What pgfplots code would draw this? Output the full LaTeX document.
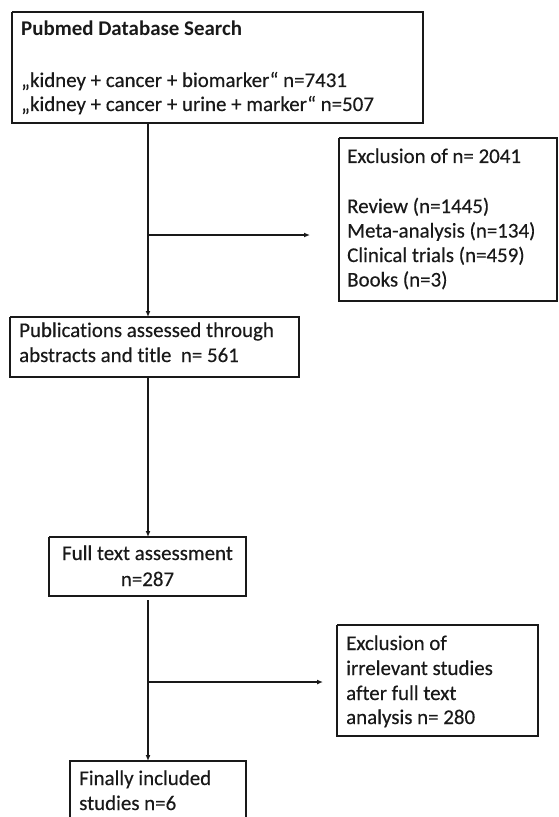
\documentclass[border=0pt]{standalone}
\usepackage{fontspec}
\setmainfont[Ligatures={NoCommon}, UprightFeatures={FakeBold=0.35}]{Carlito}
\usepackage{pgfplots}
\pgfplotsset{compat=1.18}
\usetikzlibrary{arrows.meta}
\definecolor{ink}{RGB}{25,25,25}
\begin{document}
\begin{tikzpicture}
\begin{axis}[
  width=559bp, height=817bp, scale only axis,
  xmin=0, xmax=559, ymin=0, ymax=817, y dir=reverse,
  hide axis, clip=true,
  every axis plot/.append style={line join=miter, draw=ink},
]
% boxes
\addplot[line width=1.3bp] coordinates {(12,12) (423,12) (423,123) (12,123) (12,12)};
\addplot[line width=1.3bp] coordinates {(339,138) (557,138) (557,301) (339,301) (339,138)};
\addplot[line width=1.3bp] coordinates {(10,317) (299,317) (299,377) (10,377) (10,317)};
\addplot[line width=1.3bp] coordinates {(49,537) (246,537) (246,596) (49,596) (49,537)};
\addplot[line width=1.3bp] coordinates {(337,625) (538,625) (538,736) (337,736) (337,625)};
\addplot[line width=1.3bp] coordinates {(70,840) (70,761) (246,761) (246,840)};
% arrows
\addplot[line width=1.6bp, -{Latex[length=6bp,width=5bp]}] coordinates {(148,123) (148,317)};
\addplot[line width=1.6bp, -{Latex[length=6bp,width=5bp]}] coordinates {(148,235) (310,235)};
\addplot[line width=1.6bp, -{Latex[length=6bp,width=5bp]}] coordinates {(148,377) (148,537)};
\addplot[line width=1.6bp, -{Latex[length=6bp,width=5bp]}] coordinates {(148,600) (148,761)};
\addplot[line width=1.6bp, -{Latex[length=6bp,width=5bp]}] coordinates {(148,682) (323,682)};
% texts
\begin{scope}[every node/.style={anchor=base west, inner sep=0pt, text=ink, font=\fontsize{21}{24}\selectfont}]
\node at (axis cs:21,36) {\bfseries Pubmed Database Search};
\node at (axis cs:21,87) {„kidney + cancer + biomarker“ n=7431};
\node at (axis cs:21,111) {„kidney + cancer + urine + marker“ n=507};
\node at (axis cs:347,163) {Exclusion of n= 2041};
\node at (axis cs:347,213) {Review (n=1445)};
\node at (axis cs:347,237.5) {Meta-analysis (n=134)};
\node at (axis cs:347,262) {Clinical trials (n=459)};
\node at (axis cs:347,286.5) {Books (n=3)};
\node at (axis cs:19,337) {Publications assessed through};
\node at (axis cs:19,362) {abstracts and title\ \ n= 561};
\node[anchor=base] at (axis cs:147.5,560) {Full text assessment};
\node[anchor=base] at (axis cs:147.5,586) {n=287};
\node at (axis cs:346,650) {Exclusion of};
\node at (axis cs:346,675) {irrelevant studies};
\node at (axis cs:346,700) {after full text};
\node at (axis cs:346,724) {analysis n= 280};
\node at (axis cs:79,785) {Finally included};
\node at (axis cs:79,810) {studies n=6};
\end{scope}
\end{axis}
\pgfresetboundingbox
\useasboundingbox (current axis.south west) rectangle (current axis.north east);
\end{tikzpicture}
\end{document}
